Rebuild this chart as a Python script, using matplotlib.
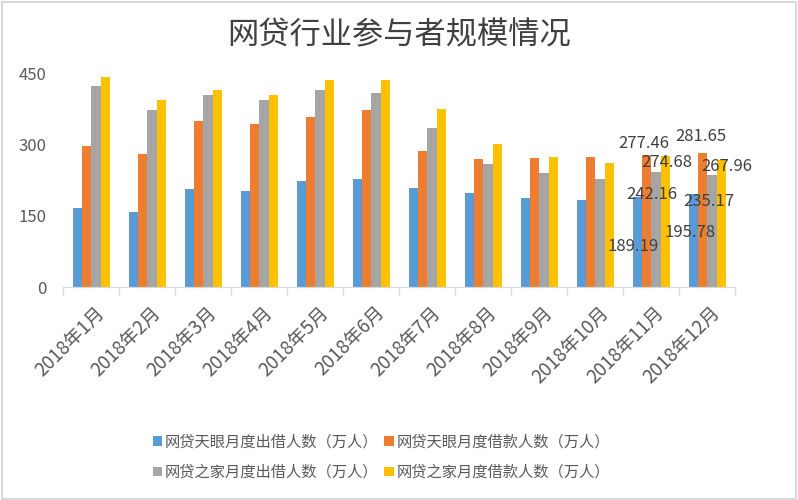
import numpy as np
import matplotlib
matplotlib.use("Agg")
import matplotlib.pyplot as plt
from matplotlib.patches import Rectangle

plt.rcParams['font.family'] = ['Noto Sans CJK SC', 'DejaVu Sans']

# Data (万人)
months = [f"2018年{m}月" for m in range(1, 13)]
series_names = ["网贷天眼月度出借人数（万人）", "网贷天眼月度借款人数（万人）",
                "网贷之家月度出借人数（万人）", "网贷之家月度借款人数（万人）"]
tianyan_lend = [167, 158, 207, 202, 223, 227, 209, 197, 188, 182, 189.19, 195.78]
tianyan_borrow = [296, 279, 349, 343, 357, 372, 287, 269, 271, 273, 277.46, 281.65]
home_lend = [422, 372, 404, 393, 414, 407, 334, 259, 240, 227, 242.16, 235.17]
home_borrow = [442, 393, 414, 404, 435, 435, 374, 301, 273, 261, 274.68, 267.96]
colors = ["#5B9BD5", "#ED7D31", "#A5A5A5", "#FFC000"]

# Only the last two months carry data labels; offsets (px) from the bar top
label_months = [10, 11]
label_offsets = {
    10: [(-4.5, -49), (-3, 12), (-4, -23), (2, -6)],
    11: [(-3, -39), (-2, 17), (-3.5, -26), (6, -7)],
}

fig = plt.figure(figsize=(7.98, 5.0), dpi=100)
ax = fig.add_axes([0.0794, 0.426, 0.842, 0.428])

all_series = [tianyan_lend, tianyan_borrow, home_lend, home_borrow]
x = np.arange(len(months))
width = 0.165
bar_sets = []
for i, (vals, c, name) in enumerate(zip(all_series, colors, series_names)):
    bars = ax.bar(x + (i - 1.5) * width, vals, width, color=c, label=name)
    bar_sets.append(bars)

# data labels
for m in label_months:
    for i, bars in enumerate(bar_sets):
        b = bars[m]
        dx, dy = label_offsets[m][i]
        ax.annotate(f"{all_series[i][m]:.2f}",
                    (b.get_x() + b.get_width() / 2, b.get_height()),
                    xytext=(dx * 0.72, dy * 0.72), textcoords="offset points",
                    ha="center", va="center", fontsize=12, color="#404040")

ax.set_xlim(-0.5, len(months) - 0.5)
ax.set_ylim(0, 450)
ax.set_yticks([0, 150, 300, 450])
ax.tick_params(axis="y", length=0, pad=12, labelsize=12, labelcolor="#595959")

ax.set_xticks(x + 0.05)
ax.set_xticklabels(months, rotation=45, ha="right", rotation_mode="anchor",
                   fontsize=13.5, color="#595959")
ax.tick_params(axis="x", which="major", length=0, pad=11)
ax.set_xticks(np.arange(-0.5, len(months)), minor=True)
ax.tick_params(axis="x", which="minor", length=6, color="#D9D9D9", width=1)

for s in ["top", "right", "left"]:
    ax.spines[s].set_visible(False)
ax.spines["bottom"].set_color("#D9D9D9")

fig.text(0.5, 0.93, "网贷行业参与者规模情况", ha="center", va="center",
         fontsize=22.5, color="#404040")

# legend fills row by row in the original: reorder for matplotlib's column fill
handles, labels = ax.get_legend_handles_labels()
order = [0, 2, 1, 3]
leg = fig.legend([handles[k] for k in order], [labels[k] for k in order],
                 loc="center", bbox_to_anchor=(0.478, 0.086), ncol=2,
                 frameon=False, fontsize=11, handlelength=0.6, handleheight=0.6,
                 handletextpad=0.2, columnspacing=0.4, labelspacing=0.9)
for t in leg.get_texts():
    t.set_color("#595959")

fig.patches.append(Rectangle((0.002, 0.003), 0.996, 0.994, transform=fig.transFigure,
                             fill=False, edgecolor="#D9D9D9", linewidth=1.5))

fig.savefig("out.png", dpi=100)
